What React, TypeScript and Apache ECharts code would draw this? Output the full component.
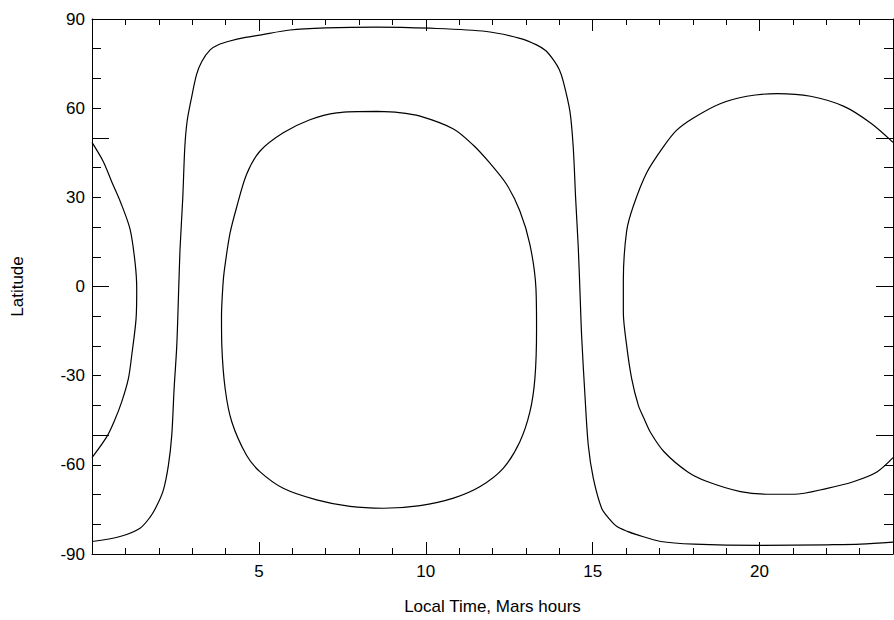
import React, { useEffect, useRef } from 'react';
import * as echarts from 'echarts';

// orbit track: rises on the morning side, falls in the afternoon
const orbitTime = [0, 0.84, 1.44, 1.74, 1.94, 2.14, 2.29, 2.39, 2.46, 2.54, 2.6, 2.64, 2.72, 2.78, 2.85, 2.98, 3.13, 3.29, 3.54, 3.8, 4.13, 4.6, 5.03, 5.93, 7.0, 8.5, 10.13, 11.82, 12.82, 13.32, 13.6, 13.82, 14.0, 14.12, 14.32, 14.42, 14.49, 14.57, 14.62, 14.67, 14.77, 14.87, 15.02, 15.27, 15.5, 15.72, 16.04, 16.32, 17.04, 18.04, 20.04, 22.03, 23.03, 24];
const orbitLat = [-85.8, -84.1, -81.3, -77.6, -73.8, -68.4, -60.1, -50.0, -34.4, -19.9, 0, 13.1, 29.9, 46.7, 55.6, 63.4, 71.2, 75.7, 79.6, 81.4, 82.6, 83.8, 84.6, 86.3, 87.0, 87.3, 86.9, 85.8, 83.5, 81.3, 79.3, 76.3, 73.0, 69.0, 58.9, 46.7, 29.9, 13.1, -1.4, -16.5, -36.6, -53.4, -64.5, -74.6, -78.2, -80.7, -82.4, -83.5, -85.8, -86.7, -87.1, -86.9, -86.7, -86.0];

// day-side loop
const dayLoopTime = [8.53, 9.2, 9.83, 10.83, 11.42, 11.93, 12.42, 12.82, 13.12, 13.3, 13.32, 13.27, 13.12, 12.82, 12.32, 11.63, 10.83, 9.83, 8.73, 7.73, 6.73, 5.73, 5.03, 4.63, 4.19, 3.99, 3.89, 3.88, 3.92, 3.96, 4.13, 4.33, 4.63, 5.03, 5.73, 6.53, 7.33, 8.53];
const dayLoopLat = [58.9, 58.5, 57.3, 53.0, 47.6, 41.4, 34.4, 25.4, 14.2, -0.3, -14.3, -31.0, -42.2, -52.2, -61.2, -67.3, -71.2, -73.7, -74.6, -74.0, -71.8, -67.9, -62.3, -56.8, -45.6, -34.4, -19.9, -10, 0, 5, 17.6, 26.5, 37.7, 45.5, 51.7, 56.1, 58.4, 58.9];

// night-side loop, wrapping through midnight
const nightLoopTime = [24, 23.33, 22.53, 21.53, 20.53, 19.62, 18.82, 18.02, 17.52, 17.12, 16.62, 16.22, 16.02, 15.92, 15.92, 16.02, 16.17, 16.37, 16.54, 16.74, 17.14, 17.84, 18.43, 19.43, 20.23, 21.03, 22.03, 22.83, 23.53, 24];
const nightLoopLat = [48.5, 55.0, 60.6, 64.0, 64.9, 64.0, 61.5, 56.7, 52.6, 47.0, 38.3, 27.1, 18.7, 1.9, -8.7, -19.9, -31.0, -40.0, -44.4, -49.2, -55.6, -62.3, -65.6, -69.0, -69.9, -69.9, -67.9, -65.6, -62.3, -57.6];
const nightWrapTime = [0, 0.34, 0.6, 0.85, 1.14, 1.29, 1.34, 1.32, 1.19, 1.09, 0.89, 0.66, 0.44, 0];
const nightWrapLat = [48.5, 42.0, 35.0, 28.5, 19.3, 8.1, -0.8, -10.9, -23.2, -31.0, -38.8, -45.5, -50.6, -57.6];

const xLabels = [5, 10, 15, 20];
const yLongTicks = [-50, 0, 50];

const FONT = '"Liberation Sans", Arial, Helvetica, sans-serif';

const zip = (xs: number[], ys: number[]) => xs.map((x, i) => [x, ys[i]]);

const App: React.FC = () => {
    const chartRef = useRef<HTMLDivElement>(null);

    useEffect(() => {
        if (!chartRef.current) return;
        const chart = echarts.init(chartRef.current, null, { renderer: 'svg' });

        const xBase = {
            type: 'value' as const,
            min: 0,
            max: 24,
            splitLine: { show: false },
            axisLine: { onZero: false, lineStyle: { color: '#000', width: 1 } }
        };
        const yBase = {
            type: 'value' as const,
            min: -90,
            max: 90,
            splitLine: { show: false },
            axisLine: { onZero: false, lineStyle: { color: '#000', width: 1 } }
        };

        const trace = (name: string, data: number[][]) => ({
            name,
            type: 'line' as const,
            data,
            showSymbol: false,
            symbol: 'none',
            smooth: 0.3,
            color: '#000',
            lineStyle: { color: '#000', width: 1.2 },
            xAxisIndex: 0,
            yAxisIndex: 0
        });

        chart.setOption({
            animation: false,
            backgroundColor: '#fff',
            textStyle: { fontFamily: FONT, color: '#000' },
            grid: { left: 92, right: 1, top: 19, bottom: 64 },
            xAxis: [
                {
                    ...xBase,
                    position: 'bottom',
                    interval: 5,
                    name: 'Local Time, Mars hours',
                    nameLocation: 'middle',
                    nameGap: 44,
                    nameTextStyle: { fontSize: 17, color: '#000', fontFamily: FONT },
                    axisTick: { inside: true, length: 12, customValues: xLabels, lineStyle: { color: '#000' } },
                    axisLabel: { customValues: xLabels, fontSize: 17, color: '#000', margin: 9, fontFamily: FONT }
                },
                {
                    ...xBase,
                    position: 'bottom',
                    interval: 1,
                    axisLine: { show: false, onZero: false },
                    axisTick: { inside: true, length: 6, lineStyle: { color: '#000' } },
                    axisLabel: { show: false }
                },
                {
                    ...xBase,
                    position: 'top',
                    interval: 5,
                    axisTick: { inside: true, length: 12, customValues: xLabels, lineStyle: { color: '#000' } },
                    axisLabel: { show: false }
                },
                {
                    ...xBase,
                    position: 'top',
                    interval: 1,
                    axisLine: { show: false, onZero: false },
                    axisTick: { inside: true, length: 6, lineStyle: { color: '#000' } },
                    axisLabel: { show: false }
                }
            ],
            yAxis: [
                {
                    ...yBase,
                    position: 'left',
                    interval: 30,
                    name: 'Latitude',
                    nameLocation: 'middle',
                    nameRotate: 90,
                    nameGap: 66,
                    nameTextStyle: { fontSize: 17, color: '#000', fontFamily: FONT },
                    axisTick: { inside: true, length: 17, customValues: yLongTicks, lineStyle: { color: '#000' } },
                    axisLabel: { fontSize: 17, color: '#000', margin: 7, fontFamily: FONT }
                },
                {
                    ...yBase,
                    position: 'left',
                    interval: 10,
                    axisLine: { show: false, onZero: false },
                    axisTick: { inside: true, length: 9, lineStyle: { color: '#000' } },
                    axisLabel: { show: false }
                },
                {
                    ...yBase,
                    position: 'right',
                    interval: 30,
                    axisTick: { inside: true, length: 17, customValues: yLongTicks, lineStyle: { color: '#000' } },
                    axisLabel: { show: false }
                },
                {
                    ...yBase,
                    position: 'right',
                    interval: 10,
                    axisLine: { show: false, onZero: false },
                    axisTick: { inside: true, length: 9, lineStyle: { color: '#000' } },
                    axisLabel: { show: false }
                }
            ],
            series: [
                trace('orbit', zip(orbitTime, orbitLat)),
                trace('day loop', zip(dayLoopTime, dayLoopLat)),
                trace('night loop', zip(nightLoopTime, nightLoopLat)),
                trace('night loop (wrap)', zip(nightWrapTime, nightWrapLat))
            ]
        });

        return () => {
            chart.dispose();
        };
    }, []);

    return (
        <div
            ref={chartRef}
            style={{ position: 'absolute', left: 0, top: 0, width: 894, height: 620 }}
        />
    );
};

export default App;
